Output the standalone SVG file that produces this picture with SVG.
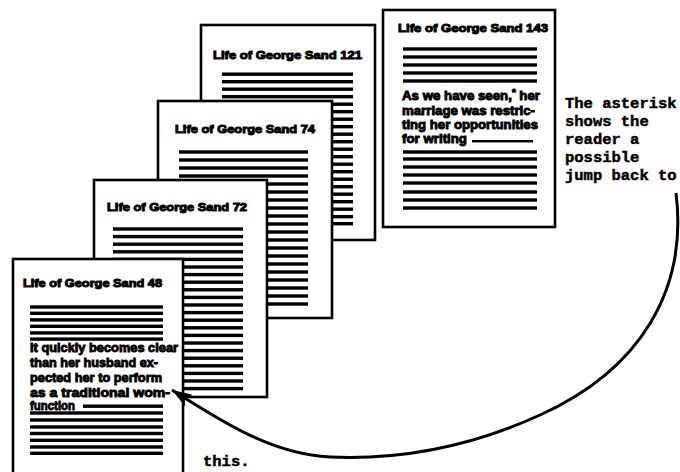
<svg xmlns="http://www.w3.org/2000/svg" width="680" height="472" viewBox="0 0 680 472">
<style>
.page{fill:#fff;stroke:#000;stroke-width:2.6}
.t{font-family:"Liberation Sans",Arial,sans-serif;font-weight:bold;font-size:11.5px;fill:#000;stroke:#000;stroke-width:1}
.b{font-family:"Liberation Sans",Arial,sans-serif;font-weight:bold;font-size:12.5px;fill:#000;stroke:#000;stroke-width:0.9}
.bar{fill:#000}
.note{font-family:"Liberation Mono","Courier New",monospace;font-weight:bold;font-size:15.5px;fill:#000;stroke:#000;stroke-width:0.5}
.curve{fill:none;stroke:#000;stroke-width:3}
</style>
<defs>
<marker id="ah" markerUnits="userSpaceOnUse" markerWidth="24" markerHeight="16" refX="20" refY="7" orient="auto">
<path d="M0,0 L20,7 L0,14 L5,7 Z" fill="#000"/>
</marker>
</defs>

<g id="page121">
<rect class="page" x="201" y="25" width="174" height="215"/>
<text class="t" x="213" y="59" textLength="149" lengthAdjust="spacingAndGlyphs">Life of George Sand 121</text>
<g class="bar">
<rect x="222" y="72.5" width="131" height="3.4"/><rect x="222" y="80" width="131" height="3.4"/><rect x="222" y="87.5" width="131" height="3.4"/><rect x="222" y="95" width="131" height="3.4"/><rect x="222" y="102.5" width="131" height="3.4"/><rect x="222" y="110" width="131" height="3.4"/><rect x="222" y="117.5" width="131" height="3.4"/><rect x="222" y="125" width="131" height="3.4"/><rect x="222" y="132.5" width="131" height="3.4"/><rect x="222" y="140" width="131" height="3.4"/><rect x="222" y="147.5" width="131" height="3.4"/><rect x="222" y="155" width="131" height="3.4"/><rect x="222" y="162.5" width="131" height="3.4"/><rect x="222" y="170" width="131" height="3.4"/><rect x="222" y="177.5" width="131" height="3.4"/><rect x="222" y="185" width="131" height="3.4"/><rect x="222" y="192.5" width="131" height="3.4"/><rect x="222" y="200" width="131" height="3.4"/><rect x="222" y="207.5" width="131" height="3.4"/><rect x="222" y="215" width="131" height="3.4"/><rect x="222" y="222" width="131" height="3.4"/>
</g>
</g>

<g id="page74">
<rect class="page" x="158" y="101" width="174" height="217"/>
<text class="t" x="175" y="133" textLength="140" lengthAdjust="spacingAndGlyphs">Life of George Sand 74</text>
<g class="bar">
<rect x="179" y="150.3" width="129" height="3.4"/><rect x="179" y="158.3" width="129" height="3.4"/><rect x="179" y="166.3" width="129" height="3.4"/><rect x="179" y="174.3" width="129" height="3.4"/><rect x="179" y="182.3" width="129" height="3.4"/><rect x="179" y="190.3" width="129" height="3.4"/><rect x="179" y="198.3" width="129" height="3.4"/><rect x="179" y="206.3" width="129" height="3.4"/><rect x="179" y="214.3" width="129" height="3.4"/><rect x="179" y="222.3" width="129" height="3.4"/><rect x="179" y="230.3" width="129" height="3.4"/><rect x="179" y="238.3" width="129" height="3.4"/><rect x="179" y="246.3" width="129" height="3.4"/><rect x="179" y="254.3" width="129" height="3.4"/><rect x="179" y="262.3" width="129" height="3.4"/><rect x="179" y="270.3" width="129" height="3.4"/><rect x="179" y="278.3" width="129" height="3.4"/><rect x="179" y="286.3" width="129" height="3.4"/><rect x="179" y="294.3" width="129" height="3.4"/><rect x="179" y="302.3" width="129" height="3.4"/>
</g>
</g>

<g id="page72">
<rect class="page" x="94" y="180" width="173" height="217"/>
<text class="t" x="107" y="211" textLength="140" lengthAdjust="spacingAndGlyphs">Life of George Sand 72</text>
<g class="bar">
<rect x="113" y="227.3" width="130" height="3.4"/><rect x="113" y="234.9" width="130" height="3.4"/><rect x="113" y="242.5" width="130" height="3.4"/><rect x="113" y="250.1" width="130" height="3.4"/><rect x="113" y="257.7" width="130" height="3.4"/><rect x="113" y="265.3" width="130" height="3.4"/><rect x="113" y="272.9" width="130" height="3.4"/><rect x="113" y="280.5" width="130" height="3.4"/><rect x="113" y="288.1" width="130" height="3.4"/><rect x="113" y="295.7" width="130" height="3.4"/><rect x="113" y="303.3" width="130" height="3.4"/><rect x="113" y="310.9" width="130" height="3.4"/><rect x="113" y="318.5" width="130" height="3.4"/><rect x="113" y="326.1" width="130" height="3.4"/><rect x="113" y="333.7" width="130" height="3.4"/><rect x="113" y="341.3" width="130" height="3.4"/><rect x="113" y="348.9" width="130" height="3.4"/><rect x="113" y="356.5" width="130" height="3.4"/><rect x="113" y="364.1" width="130" height="3.4"/><rect x="113" y="371.7" width="130" height="3.4"/><rect x="113" y="379.3" width="130" height="3.4"/><rect x="113" y="386.9" width="130" height="3.4"/>
</g>
</g>

<g id="page48">
<rect class="page" x="13" y="259" width="170" height="230"/>
<text class="t" x="23" y="287" textLength="139" lengthAdjust="spacingAndGlyphs">Life of George Sand 48</text>
<g class="bar">
<rect x="30" y="305.3" width="133" height="3.4"/><rect x="30" y="311.6" width="133" height="3.4"/><rect x="30" y="318.2" width="133" height="3.4"/><rect x="30" y="324.6" width="133" height="3.4"/><rect x="30" y="331.2" width="133" height="3.4"/><rect x="30" y="337.4" width="133" height="3.4"/>
</g>
<text class="b" x="30" y="351.5" textLength="148" lengthAdjust="spacingAndGlyphs">It quickly becomes clear</text>
<text class="b" x="30" y="366.5" textLength="128" lengthAdjust="spacingAndGlyphs">than her husband ex-</text>
<text class="b" x="30" y="381.5" textLength="132" lengthAdjust="spacingAndGlyphs">pected her to perform</text>
<text class="b" x="30" y="396.5" textLength="140" lengthAdjust="spacingAndGlyphs">as a traditional wom-</text>
<text class="b" x="30" y="410" textLength="45" lengthAdjust="spacingAndGlyphs">function</text>
<g class="bar">
<rect x="83" y="404.5" width="80" height="3.4"/>
<rect x="30" y="411.3" width="133" height="3.4"/><rect x="30" y="418.3" width="133" height="3.4"/><rect x="30" y="425.3" width="133" height="3.4"/><rect x="30" y="431.8" width="133" height="3.4"/><rect x="30" y="438.6" width="133" height="3.4"/><rect x="30" y="445.3" width="133" height="3.4"/><rect x="30" y="451.6" width="133" height="3.4"/>
</g>
</g>

<g id="page143">
<rect class="page" x="383" y="10" width="172" height="217"/>
<text class="t" x="398" y="32" textLength="150" lengthAdjust="spacingAndGlyphs">Life of George Sand 143</text>
<g class="bar">
<rect x="403" y="47.3" width="134" height="3.4"/><rect x="403" y="55.3" width="134" height="3.4"/><rect x="403" y="63.3" width="134" height="3.4"/><rect x="403" y="71.3" width="134" height="3.4"/><rect x="403" y="79.3" width="134" height="3.4"/>
</g>
<text class="b" x="402" y="100" textLength="138" lengthAdjust="spacingAndGlyphs">As we have seen,<tspan font-size="9px" dy="-5">*</tspan><tspan dy="5"> her</tspan></text>
<text class="b" x="402" y="115" textLength="133" lengthAdjust="spacingAndGlyphs">marriage was restric-</text>
<text class="b" x="402" y="129" textLength="136" lengthAdjust="spacingAndGlyphs">ting her opportunities</text>
<text class="b" x="402" y="143" textLength="65" lengthAdjust="spacingAndGlyphs">for writing</text>
<g class="bar">
<rect x="472" y="140" width="61" height="2.4"/>
<rect x="403" y="150.3" width="134" height="3.4"/><rect x="403" y="157.3" width="134" height="3.4"/><rect x="403" y="165.3" width="134" height="3.4"/><rect x="403" y="173.3" width="134" height="3.4"/><rect x="403" y="181.3" width="134" height="3.4"/><rect x="403" y="190.3" width="134" height="3.4"/><rect x="403" y="198.3" width="134" height="3.4"/><rect x="403" y="206.3" width="134" height="3.4"/>
</g>
</g>

<g id="note">
<text class="note" x="565" y="108">The asterisk</text>
<text class="note" x="565" y="126">shows the</text>
<text class="note" x="565" y="144">reader a</text>
<text class="note" x="565" y="162">possible</text>
<text class="note" x="565" y="180">jump back to</text>
</g>
<g id="note2">
<text class="note" x="203" y="466" font-size="13.5px">this.</text>
</g>

<g id="connectors">
<path class="curve" d="M676,193 C688,290 640,370 540,415 C470,447 400,460 330,457 C270,454 220,420 172,390" marker-end="url(#ah)"/>
</g>
</svg>
